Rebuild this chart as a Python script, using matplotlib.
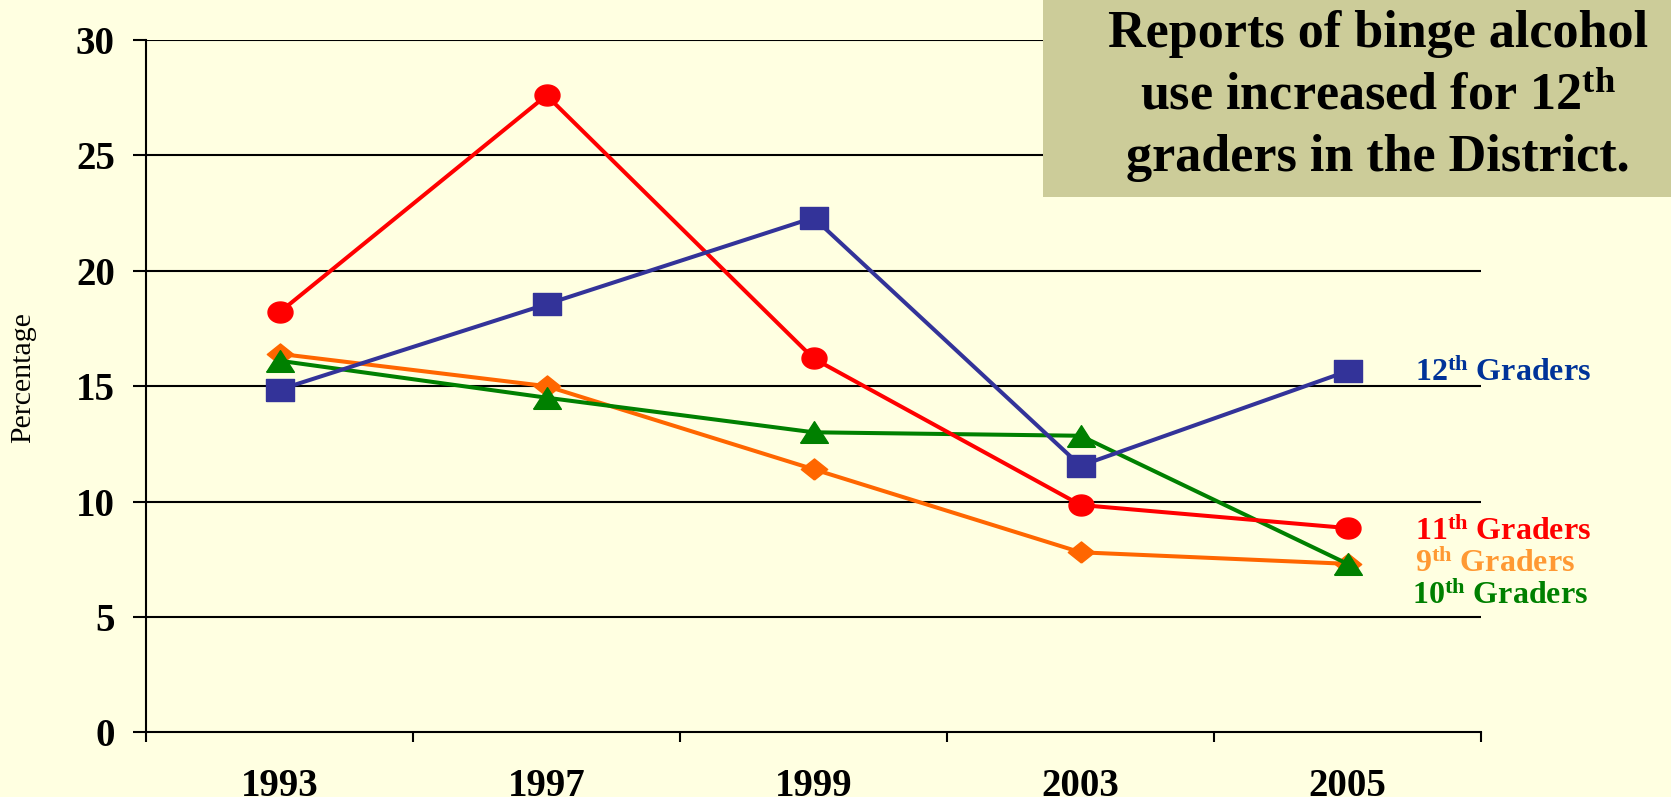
import numpy as np
import matplotlib
matplotlib.use('Agg')
import matplotlib.pyplot as plt
from matplotlib.patches import Rectangle
from matplotlib.path import Path

plt.rcParams['font.family'] = ['Liberation Serif', 'DejaVu Serif']
plt.rcParams['mathtext.fontset'] = 'custom'
plt.rcParams['mathtext.rm'] = 'Liberation Serif:bold'
plt.rcParams['mathtext.it'] = 'Liberation Serif:bold'
plt.rcParams['mathtext.bf'] = 'Liberation Serif:bold'

years = ['1993', '1997', '1999', '2003', '2005']
grade9 = [16.4, 15.0, 11.4, 7.8, 7.3]
grade10 = [16.1, 14.5, 13.0, 12.85, 7.3]
grade11 = [18.2, 27.6, 16.2, 9.85, 8.85]
grade12 = [14.85, 18.55, 22.3, 11.55, 15.65]

title_lines = ['Reports of binge alcohol',
               'use increased for 12$^{\\mathrm{th}}$',
               'graders in the District.']

bg = '#FFFFE1'

# slightly wide markers, like the stretched original
t = np.linspace(0, 2 * np.pi, 60)
m_circle = Path(np.c_[np.cos(t), 0.84 * np.sin(t)])
m_square = Path([(-1, -0.82), (1, -0.82), (1, 0.82), (-1, 0.82), (-1, -0.82)])
m_diamond = Path([(0, -0.8), (1, 0), (0, 0.8), (-1, 0), (0, -0.8)])
m_tri = Path([(-1, -0.78), (1, -0.78), (0, 0.78), (-1, -0.78)])

fig = plt.figure(figsize=(16.71, 7.97), dpi=100, facecolor=bg)
ax = fig.add_axes([0.0874, 0.0812, 0.7989, 0.8686], facecolor=bg)

x = np.arange(len(years))
ax.plot(x, grade9, color='#FF6600', lw=2.9, marker=m_diamond, ms=19, mec='#FF6600', zorder=3)
ax.plot(x, grade10, color='#008000', lw=2.9, marker=m_tri, ms=20, mec='#008000', zorder=4)
ax.plot(x, grade11, color='#FF0000', lw=2.9, marker=m_circle, ms=18, mec='#FF0000', zorder=5)
ax.plot(x, grade12, color='#333399', lw=2.9, marker=m_square, ms=20, mec='#333399', zorder=6)

ax.set_xlim(-0.5, len(years) - 0.5)
ax.set_ylim(0, 30)
ax.set_yticks(range(0, 31, 5))
ax.set_yticklabels([str(v) for v in range(0, 31, 5)], fontsize=28, fontweight='bold')
ax.set_xticks(np.arange(-0.5, len(years), 1.0))
ax.set_xticklabels([])
ax.set_xticks(x, minor=True)
ax.set_xticklabels(years, minor=True, fontsize=28, fontweight='bold')
ax.tick_params(axis='y', direction='out', length=9.4, width=1.5, pad=13)
ax.tick_params(axis='x', which='major', direction='out', length=7.5, width=1.5)
ax.tick_params(axis='x', which='minor', length=0, pad=26)

for v in range(5, 31, 5):
    ax.axhline(v, color='black', lw=1.5, zorder=1)

for s in ['top', 'right']:
    ax.spines[s].set_visible(False)
for s in ['left', 'bottom']:
    ax.spines[s].set_linewidth(1.5)
ax.set_ylabel('Percentage', fontsize=21.5, labelpad=0)
ax.yaxis.set_label_coords(-0.082, 0.513)

fig.add_artist(Rectangle((0.6242, 0.7528), 0.3758, 0.2472, transform=fig.transFigure,
                         facecolor='#CCCC99', edgecolor='none', zorder=2))
for line, yy in zip(title_lines, [0.9410, 0.8632, 0.7854]):
    fig.text(0.8247, yy, line, ha='center', va='baseline', fontsize=37.5,
             fontweight='bold', zorder=3)

fig.text(0.8468, 0.532, '12$^{\\mathrm{th}}$ Graders', color='#003399', fontsize=23,
         fontweight='bold', va='center')
fig.text(0.8468, 0.3325, '11$^{\\mathrm{th}}$ Graders', color='#FF0000', fontsize=23,
         fontweight='bold', va='center')
fig.text(0.8468, 0.2924, '9$^{\\mathrm{th}}$ Graders', color='#FF9933', fontsize=23,
         fontweight='bold', va='center')
fig.text(0.845, 0.2522, '10$^{\\mathrm{th}}$ Graders', color='#008000', fontsize=23,
         fontweight='bold', va='center')

fig.savefig('out.png', dpi=100, facecolor=bg)
